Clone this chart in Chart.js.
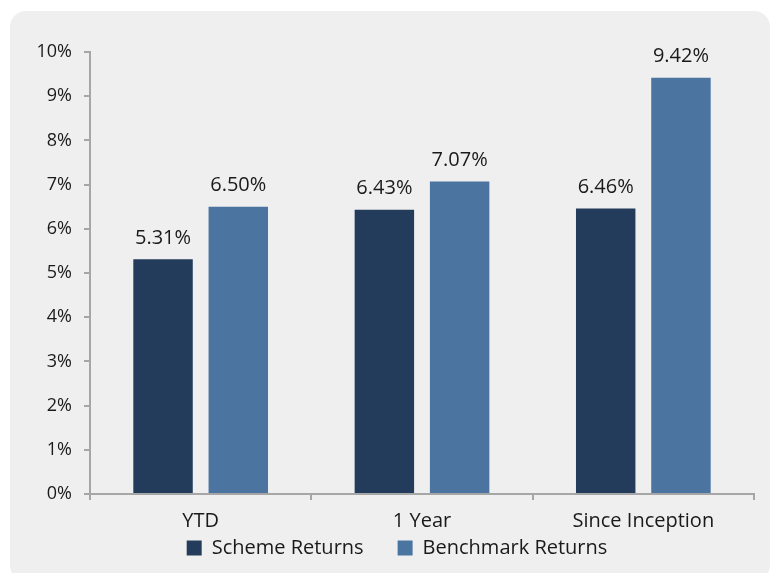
<!DOCTYPE html>
<html lang="en">
<head>
    <meta charset="UTF-8">
    <title>Scheme vs Benchmark Returns</title>
    <script src="https://cdn.jsdelivr.net/npm/chart.js"></script>
    <style>
        body {
            margin: 0;
            background: #ffffff;
        }

        /* grey rounded panel behind the chart */
        .panel {
            position: absolute;
            left: 10px;
            top: 11px;
            width: 760px;
            height: 570px;
            background: #efefef;
            border-radius: 16px;
        }

        .wrap {
            position: absolute;
            left: 0;
            top: 0;
            width: 775px;
            height: 573px;
        }
    </style>
</head>
<body>
    <div class="panel"></div>
    <div class="wrap">
        <canvas id="returnsChart" width="775" height="573"></canvas>
    </div>

    <script>
        // data
        const categories = ['YTD', '1 Year', 'Since Inception'];
        const schemeReturns = [5.31, 6.43, 6.46];
        const benchmarkReturns = [6.50, 7.07, 9.42];
        const yTicks = [0, 1, 2, 3, 4, 5, 6, 7, 8, 9, 10];

        const fontFamily = '"Open Sans", sans-serif';
        const axisGrey = '#a6a6a6';
        const textColor = '#1a1a1a';

        // writes the value above every bar
        const valueLabels = {
            id: 'valueLabels',
            afterDatasetsDraw(chart) {
                const ctx = chart.ctx;
                ctx.save();
                ctx.fillStyle = textColor;
                ctx.font = '20px ' + fontFamily;
                ctx.textAlign = 'center';
                ctx.textBaseline = 'bottom';
                chart.data.datasets.forEach((ds, i) => {
                    chart.getDatasetMeta(i).data.forEach((bar, j) => {
                        ctx.fillText(ds.data[j].toFixed(2) + '%', bar.x, bar.y - 11);
                    });
                });
                ctx.restore();
            }
        };

        // the wide legend padding (for item spacing) also pushes the text down,
        // so stretch the legend box upward after layout, and nudge it right a little
        const legendNudge = {
            id: 'legendNudge',
            afterLayout(chart) {
                chart.legend.top -= 30;
                chart.legend.left += 10;
                chart.legend.right += 10;
            }
        };

        const ctx = document.getElementById('returnsChart').getContext('2d');
        new Chart(ctx, {
            type: 'bar',
            data: {
                labels: categories,
                datasets: [{
                    label: 'Scheme Returns',
                    data: schemeReturns,
                    backgroundColor: '#243c5c'
                }, {
                    label: 'Benchmark Returns',
                    data: benchmarkReturns,
                    backgroundColor: '#4b74a1'
                }]
            },
            options: {
                responsive: false,
                animation: false,
                categoryPercentage: 0.68,
                barPercentage: 0.79,
                layout: {
                    padding: { top: 52, right: 21, left: 20, bottom: 1 }
                },
                plugins: {
                    legend: {
                        position: 'bottom',
                        maxHeight: 38,
                        labels: {
                            boxWidth: 15,
                            boxHeight: 15,
                            padding: 34,
                            color: textColor,
                            font: { family: fontFamily, size: 20 }
                        }
                    },
                    tooltip: { enabled: false }
                },
                scales: {
                    x: {
                        grid: {
                            drawOnChartArea: false,
                            tickLength: 6,
                            color: axisGrey,
                            lineWidth: 2
                        },
                        border: { color: axisGrey, width: 2 },
                        ticks: {
                            color: textColor,
                            padding: 9,
                            font: { family: fontFamily, size: 20 }
                        },
                        afterFit(scale) { scale.height = 40; }
                    },
                    y: {
                        min: 0,
                        max: 10,
                        afterBuildTicks(scale) {
                            scale.ticks = yTicks.map(v => ({ value: v }));
                        },
                        grid: {
                            drawOnChartArea: false,
                            tickLength: 6,
                            color: axisGrey,
                            lineWidth: 2
                        },
                        border: { color: axisGrey, width: 2 },
                        ticks: {
                            color: textColor,
                            padding: 12,
                            font: { family: fontFamily, size: 18 },
                            callback: v => v + '%'
                        },
                        afterFit(scale) { scale.width = 70; }
                    }
                }
            },
            plugins: [valueLabels, legendNudge]
        });
    </script>
</body>
</html>
